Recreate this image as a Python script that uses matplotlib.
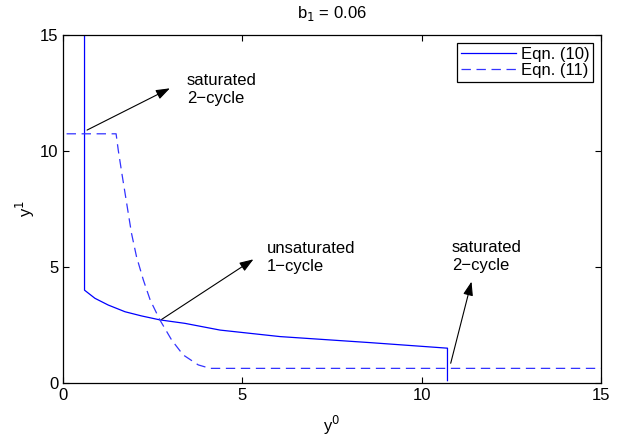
import numpy as np
import matplotlib.pyplot as plt

plt.rcParams['font.family'] = ['Liberation Sans', 'DejaVu Sans']
plt.rcParams['font.size'] = 12

# Eqn. (10) - solid curve
x10 = [0.6, 0.6, 0.89, 1.26, 1.73, 2.19, 2.70, 3.40, 4.38, 6.05, 8.56, 10.72, 10.72]
y10 = [15.0, 4.0, 3.65, 3.36, 3.07, 2.89, 2.72, 2.57, 2.28, 2.0, 1.74, 1.50, 0.1]

# Eqn. (11) - dashed curve
x11 = [0.1, 1.48, 1.54, 1.64, 1.73, 1.82, 1.91, 2.05, 2.24, 2.43, 2.70, 3.03, 3.35, 3.77, 4.10, 15.0]
y11 = [10.74, 10.74, 10.04, 9.04, 8.18, 7.31, 6.45, 5.44, 4.44, 3.58, 2.72, 1.85, 1.21, 0.78, 0.63, 0.63]

# annotations: (text, text position, arrow start, arrow tip)
notes = [
    ("saturated\n2\u2212cycle", (3.45, 12.67), (0.67, 10.9), (2.98, 12.7)),
    ("unsaturated\n1\u2212cycle", (5.69, 5.41), (2.75, 2.74), (5.31, 5.33)),
    ("saturated\n2\u2212cycle", (10.84, 5.47), (10.81, 0.85), (11.39, 4.37)),
]

fig = plt.figure(figsize=(6.27, 4.37), dpi=100)
ax = fig.add_axes([0.1005, 0.1236, 0.858, 0.7964])

ax.plot(x10, y10, color='#0000ff', lw=0.9, label='Eqn. (10)')
ax.plot(x11, y11, color='#3333ff', lw=0.9, linestyle=(0, (7.5, 4.5)), label='Eqn. (11)')

for txt, tpos, start, tip in notes:
    ax.annotate('', xy=tip, xytext=start,
                arrowprops=dict(arrowstyle='-|>,head_length=0.7,head_width=0.25',
                                color='k', lw=0.8, shrinkA=0, shrinkB=0,
                                mutation_scale=12))
    ax.text(tpos[0], tpos[1], txt, ha='left', va='center', linespacing=1.25)

ax.set_xlim(0, 15)
ax.set_ylim(0, 15)
ax.set_xticks([0, 5, 10, 15])
ax.set_yticks([0, 5, 10, 15])
ax.tick_params(direction='in', top=True, right=True, length=4, width=0.8)
for s in ax.spines.values():
    s.set_linewidth(0.9)

ax.set_xlabel('y$^0$', labelpad=8)
ax.set_ylabel('y$^1$', labelpad=2)
ax.set_title('b$_1$ = 0.06', fontsize=12, pad=12)

leg = ax.legend(loc='upper right', fancybox=False, edgecolor='k', framealpha=1,
                handlelength=3.3, borderaxespad=0.5, handletextpad=0.3,
                borderpad=0.2, labelspacing=0.1)
leg.get_frame().set_linewidth(0.9)

fig.savefig('out.png', dpi=100)
